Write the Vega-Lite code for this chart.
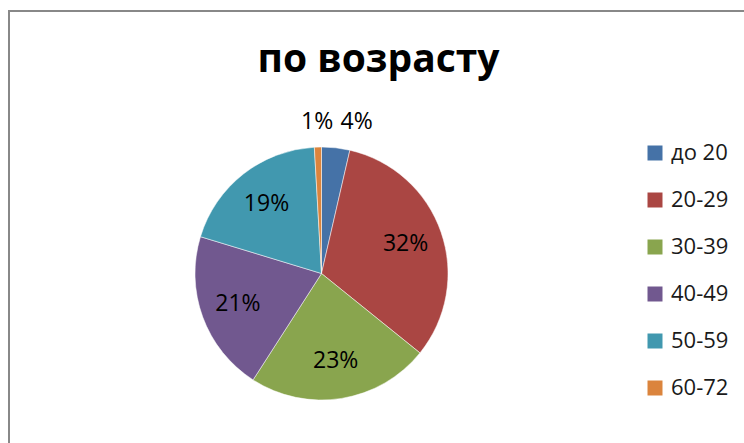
{
  "$schema": "https://vega.github.io/schema/vega-lite/v6.json",
  "autosize": {"type": "fit", "contains": "padding"},
  "width": 744,
  "height": 443,
  "padding": {"left": 9, "top": 11, "right": -4, "bottom": -4},
  "background": "white",
  "view": {"stroke": "#888888", "strokeWidth": 2, "fill": "white"},
  "title": {
    "text": "по возрасту",
    "font": "Open Sans",
    "fontSize": 39,
    "fontWeight": "bold",
    "color": "#000000",
    "anchor": "middle",
    "frame": "group",
    "baseline": "alphabetic",
    "offset": -100
  },
  "data": {
    "values": [
      {"group": "до 20", "idx": 1, "share": 0.036},
      {"group": "20-29", "idx": 2, "share": 0.322},
      {"group": "30-39", "idx": 3, "share": 0.233},
      {"group": "40-49", "idx": 4, "share": 0.206},
      {"group": "50-59", "idx": 5, "share": 0.194},
      {"group": "60-72", "idx": 6, "share": 0.009}
    ]
  },
  "encoding": {
    "theta": {"field": "share", "type": "quantitative", "stack": true},
    "order": {"field": "idx", "type": "quantitative"},
    "color": {
      "field": "group",
      "type": "nominal",
      "sort": null,
      "scale": {
        "domain": ["до 20", "20-29", "30-39", "40-49", "50-59", "60-72"],
        "range": ["#4572A7", "#AA4643", "#89A54E", "#71588F", "#4198AF", "#DB843D"]
      },
      "legend": {
        "title": null,
        "orient": "none",
        "legendX": 635,
        "legendY": 131,
        "direction": "vertical",
        "symbolType": "square",
        "symbolSize": 225,
        "symbolStrokeWidth": 0,
        "labelFont": "Open Sans",
        "labelFontSize": 22,
        "labelColor": "#1a1a1a",
        "labelOffset": 5,
        "labelLimit": 200,
        "rowPadding": 25,
        "padding": 0
      }
    }
  },
  "layer": [
    {
      "mark": {"type": "arc", "outerRadius": 126.5, "xOffset": -57, "yOffset": 44.5, "stroke": "white", "strokeWidth": 0.5}
    },
    {
      "mark": {"type": "text", "radius": 89, "xOffset": -57, "yOffset": 44.5, "font": "Open Sans", "fontSize": 23, "color": "#000000"},
      "encoding": {
        "text": {"condition": {"test": "datum.share >= 0.05", "field": "share", "format": ".0%"}, "value": ""},
        "color": {"value": "#000000"}
      }
    },
    {
      "mark": {"type": "text", "radius": 152, "xOffset": -57, "yOffset": 44.5, "dx": 18, "font": "Open Sans", "fontSize": 23, "color": "#000000"},
      "encoding": {
        "text": {"condition": {"test": "datum.group === 'до 20'", "field": "share", "format": ".0%"}, "value": ""},
        "color": {"value": "#000000"}
      }
    },
    {
      "mark": {"type": "text", "radius": 152, "xOffset": -57, "yOffset": 44.5, "font": "Open Sans", "fontSize": 23, "color": "#000000"},
      "encoding": {
        "text": {"condition": {"test": "datum.group === '60-72'", "field": "share", "format": ".0%"}, "value": ""},
        "color": {"value": "#000000"}
      }
    }
  ],
  "config": {
    "view": {"stroke": "#888888", "strokeWidth": 2}
  }
}
